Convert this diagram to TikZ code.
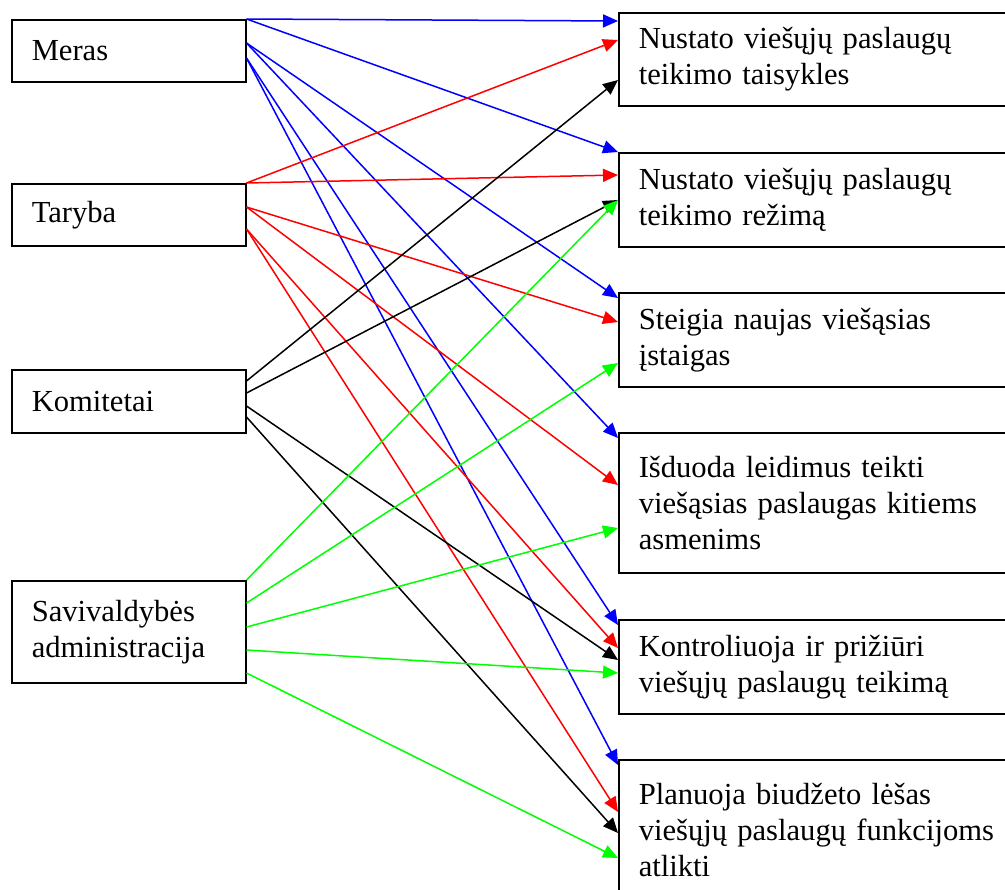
\documentclass[tikz,border=0pt]{standalone}
\usepackage{fontspec}
\setmainfont{Liberation Serif}
\usetikzlibrary{arrows.meta,calc}

\tikzset{
  actor/.style={draw, line width=0.75pt, anchor=north west, minimum width=117pt,
    text width=97pt, inner xsep=10pt, inner ysep=0pt, align=left,
    font=\fontsize{15.3}{18}\selectfont},
  task/.style={actor, minimum width=210pt, text width=190pt},
  link/.style={line width=0.75pt, -{Triangle[length=7.5pt,width=6.5pt]}},
}

\begin{document}
\begin{tikzpicture}[x=0.5pt,y=-0.5pt]
  \useasboundingbox (0,0) rectangle (1005,889);
  \clip (0,0) rectangle (1005,889);

  % who
  \node[actor, minimum height=31pt] (meras) at (11,19) {Meras};
  \node[actor, minimum height=31pt] (taryba) at (11,183) {Taryba};
  \node[actor, minimum height=31.5pt] (komitetai) at (11,369) {Komitetai};
  \node[actor, minimum height=51pt] (admin) at (11,580) {Savivaldybės\\administracija};

  % what
  \node[task, minimum height=46.5pt] (taisykles) at (618,12) {Nustato viešųjų paslaugų\\teikimo taisykles};
  \node[task, minimum height=47pt] (rezimas) at (618,152) {Nustato viešųjų paslaugų\\teikimo režimą};
  \node[task, minimum height=47pt] (steigia) at (618,292) {Steigia naujas viešąsias\\įstaigas};
  \node[task, minimum height=70pt] (leidimai) at (618,432) {Išduoda leidimus teikti\\viešąsias paslaugas kitiems\\asmenims};
  \node[task, minimum height=47pt] (kontrole) at (618,619) {Kontroliuoja ir prižiūri\\viešųjų paslaugų teikimą};
  \node[task, minimum height=70pt] (biudzetas) at (618,759) {Planuoja biudžeto lėšas\\viešųjų paslaugų funkcijoms\\atlikti};

  % links
  \foreach \sy/\dst/\dy in {0/taisykles/9, 0/rezimas/0, 24/steigia/6, 24/leidimai/6, 39/kontrole/6, 39/biudzetas/6}
    \draw[link, blue] ($(meras.north east)+(0,\sy)$) -- ($(\dst.north west)+(0,\dy)$);
  \foreach \sy/\dst/\dy in {0/taisykles/28, 0/rezimas/23, 24/steigia/30, 24/leidimai/53, 46/kontrole/29, 46/biudzetas/53}
    \draw[link, red] ($(taryba.north east)+(0,\sy)$) -- ($(\dst.north west)+(0,\dy)$);
  \foreach \sy/\dst/\dy in {12/taisykles/68, 24/rezimas/48, 37/kontrole/41, 48/biudzetas/74}
    \draw[link, black] ($(komitetai.north east)+(0,\sy)$) -- ($(\dst.north west)+(0,\dy)$);
  \foreach \sy/\dst/\dy in {0/rezimas/48, 23/steigia/71, 47/leidimai/96, 70/kontrole/54, 93/biudzetas/99}
    \draw[link, green] ($(admin.north east)+(0,\sy)$) -- ($(\dst.north west)+(0,\dy)$);
\end{tikzpicture}
\end{document}
